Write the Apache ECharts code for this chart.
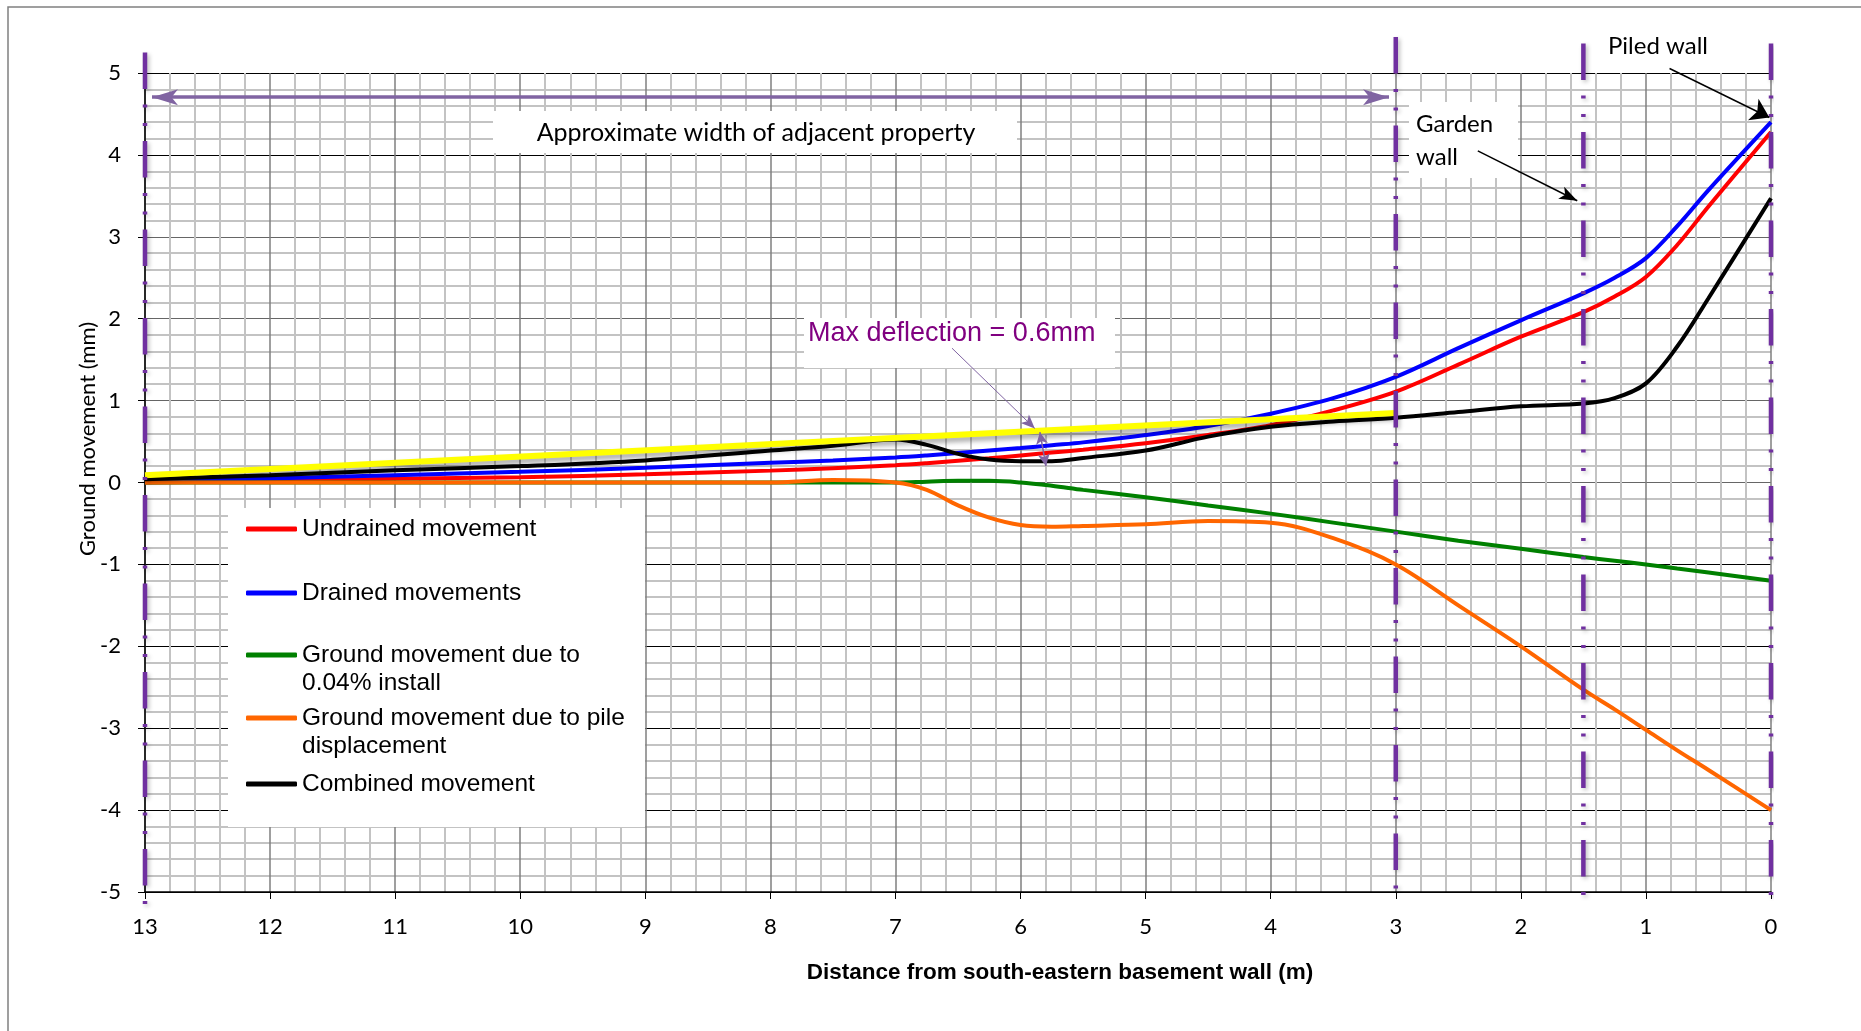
<!DOCTYPE html>
<html><head><meta charset="utf-8">
<script src="https://cdn.jsdelivr.net/npm/echarts@6/dist/echarts.min.js"></script>
<style>html,body{margin:0;padding:0;background:#fff;}#c{width:1861px;height:1031px;}</style>
</head><body><div id="c"></div>
<script>
// ---- data (distance in m, movement in mm) ----
const distance  = [13, 12, 11, 10, 9, 8, 7.5, 7, 6.75, 6.5, 6.25, 6, 5.75, 5.5, 5, 4.5, 4, 3.5, 3, 2.5, 2, 1.5, 1.25, 1, 0.75, 0.5, 0];
const undrained = [0.00, 0.02, 0.045, 0.065, 0.10, 0.145, 0.175, 0.21, 0.235, 0.265, 0.295, 0.33, 0.365, 0.40, 0.48, 0.58, 0.70, 0.88, 1.11, 1.44, 1.78, 2.08, 2.27, 2.51, 2.90, 3.37, 4.28];
const drained   = [0.02, 0.05, 0.09, 0.13, 0.18, 0.24, 0.27, 0.305, 0.33, 0.36, 0.39, 0.42, 0.455, 0.49, 0.58, 0.69, 0.84, 1.03, 1.29, 1.64, 1.98, 2.31, 2.50, 2.74, 3.13, 3.57, 4.40];
const install   = [0, 0, 0, 0, 0, 0, 0, 0, 0.01, 0.02, 0.02, 0.0, -0.04, -0.09, -0.18, -0.28, -0.38, -0.49, -0.60, -0.71, -0.81, -0.91, -0.955, -1.0, -1.05, -1.10, -1.20];
const pile      = [0, 0, 0, 0, 0, 0, 0.03, 0.0, -0.09, -0.28, -0.43, -0.52, -0.54, -0.53, -0.51, -0.47, -0.49, -0.68, -1.0, -1.5, -2.0, -2.53, -2.77, -3.02, -3.27, -3.51, -4.0];
const combined  = [0.04, 0.09, 0.15, 0.20, 0.27, 0.39, 0.45, 0.525, 0.46, 0.35, 0.28, 0.26, 0.26, 0.30, 0.39, 0.56, 0.68, 0.745, 0.79, 0.86, 0.93, 0.965, 1.03, 1.21, 1.66, 2.25, 3.47];
const limitDistance = [13, 3];
const limitValue    = [0.09, 0.85];
const wallDistance  = [13, 3, 1.5, 0];
const wallTop       = [5.25, 5.44, 5.36, 5.36];
const wallBottom    = [-5.15, -4.99, -5.05, -5.06];
const seriesNames = ['Undrained movement', 'Drained movements', 'Ground movement due to 0.04% install', 'Ground movement due to pile displacement', 'Combined movement'];
const legendLabels = ['Undrained movement', 'Drained movements', '\nGround movement due to\n0.04% install', '\nGround movement due to pile\ndisplacement', 'Combined movement'];

const pairs = (xs, ys) => xs.map((x, i) => [x, ys[i]]);

const chart = echarts.init(document.getElementById('c'), null, {renderer: 'canvas'});

const purple = '#7030A0';
const wallSeries = wallDistance.map((d, i) => ({
  type: 'line', name: 'wall' + i, data: [[d, wallTop[i]], [d, wallBottom[i]]],
  symbol: 'none', clip: false, silent: true, z: 3,
  lineStyle: {color: purple, width: 4.5, type: [36.5, 15.5, 3, 15.5, 3, 15], cap: 'butt',
    shadowColor: 'rgba(0,0,0,0.25)', shadowBlur: 4, shadowOffsetX: 2, shadowOffsetY: 2}
}));

const curve = (name, vals, color) => ({
  type: 'line', name, data: pairs(distance, vals), symbol: 'none', smooth: 0.35,
  lineStyle: {color, width: 4}, itemStyle: {color}, z: 2
});

const arrowEnd = (from, to, color, width, size, both) => [
  {coord: from, symbol: both ? 'arrow' : 'none', symbolSize: size, lineStyle: {color, width, type: 'solid'}},
  {coord: to, symbol: 'arrow', symbolSize: size, lineStyle: {color, width, type: 'solid'}}
];

const lgCommon = {orient: 'vertical', left: 246, padding: 0, itemWidth: 51, itemHeight: 5, itemGap: 0,
  icon: 'roundRect', selectedMode: false, z: 6,
  textStyle: {fontFamily: 'Liberation Sans', fontSize: 24.5, color: '#000', lineHeight: 28}};
const legendTops = [515, 579, 613, 676, 770];
const legends = seriesNames.map((n, i) => Object.assign({}, lgCommon, {
  top: legendTops[i], data: [n],
  formatter: () => legendLabels[i]
}));

const option = {
  animation: false,
  backgroundColor: '#fff',
  grid: {left: 145, top: 73, width: 1626, height: 819, containLabel: false},
  legend: legends,
  xAxis: {
    type: 'value', min: 0, max: 13, interval: 1, inverse: true,
    axisLine: {onZero: false, lineStyle: {color: '#000', width: 1.5}},
    axisTick: {show: true, length: 7, lineStyle: {color: '#000', width: 1}},
    axisLabel: {fontFamily: 'Lato', fontSize: 22, color: '#000', margin: 24},
    splitLine: {show: true, lineStyle: {color: '#7f7f7f', width: 1.5}},
    minorTick: {show: false, splitNumber: 5},
    minorSplitLine: {show: true, lineStyle: {color: '#c3c3c3', width: 2}}
  },
  yAxis: {
    type: 'value', min: -5, max: 5, interval: 1,
    axisLine: {show: true, onZero: false, lineStyle: {color: '#000', width: 1.5}},
    axisTick: {show: true, length: 7, lineStyle: {color: '#000', width: 1}},
    axisLabel: {fontFamily: 'Lato', fontSize: 22, color: '#000', margin: 24},
    splitLine: {show: true, lineStyle: {color: ['#000', '#000', '#000', '#000', '#000', '#666', '#666', '#666', '#666', '#000', '#000'], width: 1.2}},
    minorTick: {show: false, splitNumber: 5},
    minorSplitLine: {show: true, lineStyle: {color: '#c3c3c3', width: 2}}
  },
  series: [
    curve(seriesNames[0], undrained, '#FF0000'),
    curve(seriesNames[1], drained, '#0000FF'),
    curve(seriesNames[2], install, '#008000'),
    curve(seriesNames[3], pile, '#FF6600'),
    curve(seriesNames[4], combined, '#000000'),
    {
      type: 'line', name: 'limit', data: pairs(limitDistance, limitValue), symbol: 'none', clip: false, z: 2,
      lineStyle: {color: '#FFFF00', width: 6, shadowColor: 'rgba(0,0,0,0.35)', shadowBlur: 5, shadowOffsetY: 4},
      markLine: {
        silent: true, animation: false, label: {show: false}, symbol: ['none', 'none'],
        data: [
          arrowEnd([12.944, 4.705], [3.054, 4.705], '#8064A2', 3.5, [12, 26], true),
          arrowEnd([6.548, 1.64], [5.886, 0.66], '#8064A2', 1, [9, 14], false),
          arrowEnd([5.845, 0.614], [5.797, 0.20], '#8064A2', 1.5, [9, 12], true),
          arrowEnd([2.344, 4.05], [1.549, 3.44], '#000', 1.5, [10, 18], false)
        ]
      }
    },
    {
      type: 'lines', coordinateSystem: 'cartesian2d', clip: false, silent: true, z: 4,
      symbol: ['none', 'arrow'], symbolSize: [10, 18],
      lineStyle: {color: '#000', width: 1.5, type: 'solid', opacity: 1},
      data: [{coords: [[0.811, 5.055], [0.013, 4.457]]}]
    },
    ...wallSeries
  ],
  graphic: [
    {type: 'rect', z: 0, silent: true, shape: {x: 8, y: 7, width: 1900, height: 1100}, style: {fill: 'none', stroke: '#808080', lineWidth: 1.5}},
    {type: 'rect', z: 1, silent: true, shape: {x: 228, y: 508, width: 417, height: 319}, style: {fill: '#fff'}},
    {type: 'rect', z: 1, silent: true, shape: {x: 493, y: 111, width: 524, height: 42}, style: {fill: '#fff'}},
    {type: 'rect', z: 1, silent: true, shape: {x: 1409, y: 102, width: 109, height: 76}, style: {fill: '#fff'}},
    {type: 'rect', z: 1, silent: true, shape: {x: 804, y: 318, width: 311, height: 50}, style: {fill: '#fff'}},
    {type: 'text', z: 10, x: 756, y: 133, style: {text: 'Approximate width of adjacent property', fontFamily: 'Lato', fontSize: 25, fill: '#000', align: 'center', verticalAlign: 'middle'}},
    {type: 'text', z: 10, x: 1416, y: 124, style: {text: 'Garden', fontFamily: 'Lato', fontSize: 24, fill: '#000', align: 'left', verticalAlign: 'middle'}},
    {type: 'text', z: 10, x: 1416, y: 157, style: {text: 'wall', fontFamily: 'Lato', fontSize: 24, fill: '#000', align: 'left', verticalAlign: 'middle'}},
    {type: 'text', z: 10, x: 1608, y: 46, style: {text: 'Piled wall', fontFamily: 'Lato', fontSize: 24, fill: '#000', align: 'left', verticalAlign: 'middle'}},
    {type: 'text', z: 10, x: 808, y: 334, style: {text: 'Max deflection = 0.6mm', fontFamily: 'Liberation Sans', fontSize: 27, fill: '#800080', align: 'left', verticalAlign: 'middle'}},
    {type: 'text', z: 10, x: 88, y: 439, rotation: Math.PI / 2, style: {text: 'Ground movement (mm)', fontFamily: 'Lato', fontSize: 22, fill: '#000', align: 'center', verticalAlign: 'middle'}},
    {type: 'text', z: 10, x: 1060, y: 973, style: {text: 'Distance from south-eastern basement wall (m)', fontFamily: 'Liberation Sans', fontWeight: 'bold', fontSize: 22.5, fill: '#000', align: 'center', verticalAlign: 'middle'}}
  ]
};
chart.setOption(option);
</script></body></html>
